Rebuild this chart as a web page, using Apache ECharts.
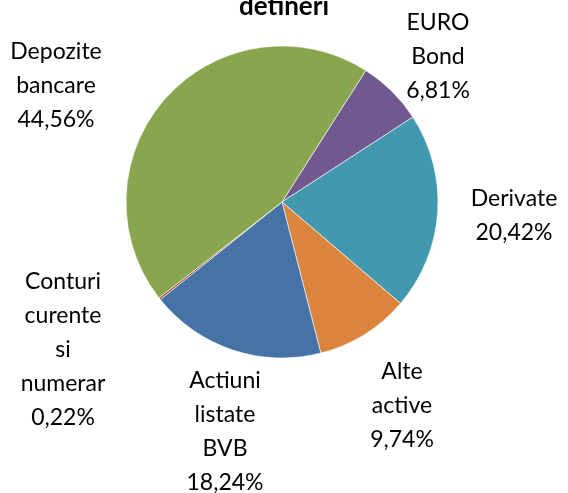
<!DOCTYPE html>
<html>
<head>
<meta charset="utf-8">
<script src="https://cdn.jsdelivr.net/npm/echarts@6/dist/echarts.min.js"></script>
<style>
  html, body { margin: 0; padding: 0; background: #fff; }
  #main { width: 568px; height: 493px; }
</style>
</head>
<body>
<div id="main"></div>
<script>
var chartDom = document.getElementById('main');
var myChart = echarts.init(chartDom, null);

// date
var categories = ['EURO\nBond', 'Derivate', 'Alte\nactive', 'Actiuni\nlistate\nBVB', 'Conturi\ncurente\nsi\nnumerar', 'Depozite\nbancare'];
var values = [6.81, 20.42, 9.74, 18.24, 0.22, 44.56];
var colors = ['#71588F', '#4198AF', '#DB843D', '#4572A7', '#AA4643', '#89A54E'];

// pozitia etichetelor (centru bloc text)
var labelPos = [[438, 57], [514, 216], [402, 406], [225, 432], [63, 350], [56, 86]];

var pieData = categories.map(function (c, i) {
    return { name: c, value: values[i], itemStyle: { color: colors[i] } };
});

var option = {
    animation: false,
    textStyle: {
        fontFamily: 'Lato'
    },
    title: {
        text: 'detineri',
        left: 'center',
        top: -11,
        textStyle: {
            fontFamily: 'Lato',
            fontWeight: 'bold',
            fontSize: 26,
            color: '#000'
        }
    },
    series: [
    {
        type: 'pie',
        center: [282, 202],
        radius: 156,
        startAngle: 57.5,
        clockwise: true,
        data: pieData,
        itemStyle: {
            borderColor: '#ffffff',
            borderWidth: 0.6
        },
        label: {
            show: true,
            position: 'outside',
            color: '#000',
            fontSize: 23,
            lineHeight: 34,
            align: 'center',
            overflow: 'none',
            formatter: function (p) {
                return p.name + '\n' + p.value.toFixed(2).replace('.', ',') + '%';
            }
        },
        labelLine: { show: false },
        labelLayout: function (params) {
            var pos = labelPos[params.dataIndex];
            return {
                x: pos[0],
                y: pos[1],
                align: 'center',
                verticalAlign: 'middle',
                hideOverlap: false
            };
        },
        emphasis: { disabled: true }
    }
    ]
};

myChart.setOption(option);
</script>
</body>
</html>
